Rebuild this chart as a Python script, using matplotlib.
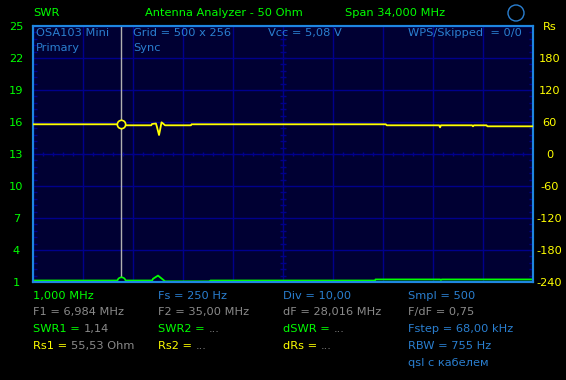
import numpy as np
import matplotlib
matplotlib.use('Agg')
import matplotlib.pyplot as plt
from matplotlib.patches import Ellipse

# sweep: 1 MHz start, 34 MHz span
f_start = 1.0
f_span = 34.0

# SWR trace (green, left axis)
swr_freq = [1.0, 9.10, 9.16, 9.50, 9.77, 9.98, 13.04, 13.07, 24.26, 24.29, 28.68, 28.74, 28.80, 35.0]
swr_vals = [1.14, 1.14, 1.30, 1.60, 1.30, 1.06, 1.06, 1.14, 1.14, 1.24, 1.24, 1.19, 1.24, 1.24]

# Rs trace (yellow, right axis)
rs_freq = [1.0, 6.98, 7.05, 9.04, 9.09, 9.36, 9.43, 9.57, 9.64, 9.74, 9.84, 9.98,
           11.74, 11.78, 24.99, 25.06, 28.62, 28.68, 28.74, 30.86, 30.92, 30.98, 31.84, 31.90, 35.0]
rs_vals = [55.7, 55.7, 53.8, 53.8, 56.3, 57.2, 50.6, 35.6, 45.0, 59.4, 57.2, 53.8,
           53.8, 55.7, 55.7, 53.8, 53.8, 50.0, 53.8, 53.8, 51.9, 53.8, 53.8, 51.9, 51.9]

marker_f = 6.984
marker_swr = 1.14
marker_rs = 55.53

swr_ticks = [1, 4, 7, 10, 13, 16, 19, 22, 25]
rs_ticks = [-240, -180, -120, -60, 0, 60, 120, 180, 240]
rs_labels = ['-240', '-180', '-120', '-60', '0', '60', '120', '180', 'Rs']

GREEN = '#00ff00'
YELLOW = '#ffff00'
BLUE = '#2a7fd0'
GRAY = '#8a8a8a'
BG = '#000033'
GRID = '#00008c'
SPINE = '#1e86e0'

W, H = 566, 380
plt.rcParams['font.family'] = ['DejaVu Sans']
fig = plt.figure(figsize=(W / 100, H / 100), dpi=100, facecolor='black')
ax = fig.add_axes([33 / W, (H - 282) / H, 500 / W, 256 / H])
ax.set_facecolor(BG)
ax.set_xlim(f_start, f_start + f_span)
ax.set_ylim(swr_ticks[0], swr_ticks[-1])
ax.set_xticks(np.linspace(f_start, f_start + f_span, 11))
ax.set_yticks(swr_ticks)
ax.set_yticks(np.arange(1, 25.01, 0.6), minor=True)
ax.grid(True, color=GRID, lw=1)
ax.tick_params(axis='x', length=0, labelbottom=False)
ax.tick_params(axis='y', which='major', length=0, pad=12, labelcolor=GREEN, labelsize=8.2)
ax.tick_params(axis='y', which='minor', direction='in', length=3, color=GRID, width=1)
for lbl in ax.get_yticklabels():
    lbl.set_ha('center')
for s in ax.spines.values():
    s.set_color(SPINE)
    s.set_linewidth(1.5)

# tick marks on the center cross
mid_f = f_start + f_span / 2
ax.plot(np.arange(f_start, f_start + f_span + 0.01, 0.68), np.full(51, 13.0), ls='none',
        marker='|', ms=3.5, color=GRID, mew=1)
ax.plot(np.full(41, mid_f), np.arange(1, 25.01, 0.6), ls='none', marker='_', ms=4, color=GRID, mew=1)

ax2 = ax.twinx()
ax2.set_ylim(rs_ticks[0], rs_ticks[-1])
ax2.set_yticks(rs_ticks)
ax2.set_yticklabels(rs_labels)
ax2.set_yticks(np.arange(-240, 240.1, 12), minor=True)
ax2.tick_params(axis='y', which='major', length=0, pad=12, labelcolor=YELLOW, labelsize=8.2)
ax2.tick_params(axis='y', which='minor', direction='in', length=3, color=GRID, width=1)
for lbl in ax2.get_yticklabels():
    lbl.set_ha('center')
for s in ax2.spines.values():
    s.set_color(SPINE)
    s.set_linewidth(1.5)

# marker line
ax.axvline(marker_f, color='#b0b0b0', lw=1, zorder=3)

ax.plot(swr_freq, swr_vals, color=GREEN, lw=1.3, zorder=4)
ax2.plot(rs_freq, rs_vals, color=YELLOW, lw=1.3, zorder=4)
ax.plot(marker_f, marker_swr, 'o', ms=6, mfc=BG, mec=GREEN, mew=1.2, zorder=5)
ax2.plot(marker_f, marker_rs, 'o', ms=6, mfc=BG, mec=YELLOW, mew=1.2, zorder=5)


def px(x, y):
    return x / W, 1 - y / H


def txt(x, y, s, c):
    return fig.text(*px(x, y), s, color=c, fontsize=8.2, va='center', ha='left')


def txt2(x, y, s1, c1, s2, c2):
    # label in one colour, value right after it in another
    t = txt(x, y, s1, c1)
    ax.annotate(s2, xy=(1, 0), xycoords=t, va='bottom', ha='left', color=c2,
                fontsize=8.2, annotation_clip=False)


# header
txt(33, 13, 'SWR', GREEN)
txt(145, 13, 'Antenna Analyzer - 50 Ohm', GREEN)
txt(345, 13, 'Span 34,000 MHz', GREEN)
fig.add_artist(Ellipse(px(516, 13), 16 / W, 16 / H, transform=fig.transFigure,
                       fill=False, ec=BLUE, lw=1))

# inside plot labels
txt(36, 33, 'OSA103 Mini', BLUE)
txt(36, 48, 'Primary', BLUE)
txt(133, 33, 'Grid = 500 x 256', BLUE)
txt(133, 48, 'Sync', BLUE)
txt(268, 33, 'Vcc = 5,08 V', BLUE)
txt(408, 33, 'WPS/Skipped  = 0/0', BLUE)

# bottom info block
txt(33, 296, '1,000 MHz', GREEN)
txt(158, 296, 'Fs = 250 Hz', BLUE)
txt(283, 296, 'Div = 10,00', BLUE)
txt(408, 296, 'Smpl = 500', BLUE)
txt(33, 312, 'F1 = 6,984 MHz', GRAY)
txt(158, 312, 'F2 = 35,00 MHz', GRAY)
txt(283, 312, 'dF = 28,016 MHz', GRAY)
txt(408, 312, 'F/dF = 0,75', GRAY)
txt2(33, 329, 'SWR1 = ', GREEN, '1,14', GRAY)
txt2(158, 329, 'SWR2 = ', GREEN, '...', GRAY)
txt2(283, 329, 'dSWR = ', GREEN, '...', GRAY)
txt(408, 329, 'Fstep = 68,00 kHz', BLUE)
txt2(33, 346, 'Rs1 = ', YELLOW, '55,53 Ohm', GRAY)
txt2(158, 346, 'Rs2 = ', YELLOW, '...', GRAY)
txt2(283, 346, 'dRs = ', YELLOW, '...', GRAY)
txt(408, 346, 'RBW = 755 Hz', BLUE)
txt(408, 363, 'qsl с кабелем', BLUE)

fig.savefig('out.png', dpi=100, facecolor='black')
